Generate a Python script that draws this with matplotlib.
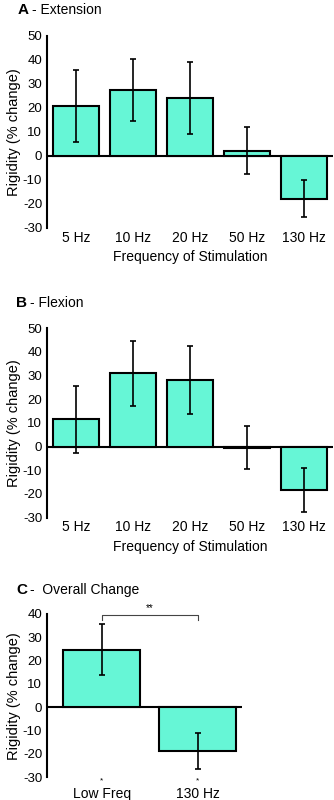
import matplotlib
matplotlib.use("Agg")
import matplotlib.pyplot as plt
import matplotlib.transforms as mtransforms

# --- data ---
freq_labels = ["5 Hz", "10 Hz", "20 Hz", "50 Hz", "130 Hz"]
ext_mean = [21, 27.5, 24, 2.2, -17.8]
ext_err = [15, 13, 15, 9.8, 7.6]
flex_mean = [11.5, 31, 28, -0.5, -18.5]
flex_err = [14, 13.7, 14.3, 9, 9.3]
overall_labels = ["Low Freq", "130 Hz"]
overall_mean = [24.7, -18.8]
overall_err = [10.8, 7.8]

BAR_COLOR = "#66f6d6"
plt.rcParams["font.family"] = ["Liberation Sans", "DejaVu Sans"]

fig = plt.figure(figsize=(3.34, 8.0), dpi=100)


def style_axes(ax, ylim, yticks, xlim):
    ax.set_xlim(*xlim)
    ax.set_ylim(*ylim)
    ax.set_yticks(yticks)
    ax.set_yticklabels([str(t) for t in yticks], fontsize=9.5)
    for s in ["top", "right", "bottom"]:
        ax.spines[s].set_visible(False)
    ax.spines["left"].set_linewidth(1.5)
    ax.tick_params(axis="y", length=0, pad=3.5)
    ax.tick_params(axis="x", length=0, pad=2)
    ax.axhline(0, color="black", lw=1.5, zorder=1)
    ax.set_ylabel("Rigidity (% change)", fontsize=10.5, labelpad=1)


def bar_panel(ax, labels, means, errs):
    x = list(range(len(labels)))
    ax.bar(x, means, width=0.8, color=BAR_COLOR, edgecolor="black",
           linewidth=1.5, zorder=2)
    ax.errorbar(x, means, yerr=errs, fmt="none", ecolor="black",
                elinewidth=1.2, capsize=2, capthick=1.2, zorder=3)
    ax.set_xticks(x)
    ax.set_xticklabels(labels, fontsize=10)


# A - Extension
axA = fig.add_axes([0.1407, 0.715, 0.856, 0.24])
bar_panel(axA, freq_labels, ext_mean, ext_err)
style_axes(axA, (-30, 50), [50, 40, 30, 20, 10, 0, -10, -20, -30], (-0.51, 4.51))
axA.set_xlabel("Frequency of Stimulation", fontsize=10, labelpad=4)
fig.text(18 / 334, 1 - 10 / 800, "A", fontsize=11, fontweight="bold", va="center")
fig.text(32 / 334, 1 - 10 / 800, "- Extension", fontsize=10, va="center")

# B - Flexion
axB = fig.add_axes([0.1407, 0.353, 0.856, 0.2367])
bar_panel(axB, freq_labels, flex_mean, flex_err)
style_axes(axB, (-30, 50), [50, 40, 30, 20, 10, 0, -10, -20, -30], (-0.51, 4.51))
axB.set_xlabel("Frequency of Stimulation", fontsize=10, labelpad=4)
fig.text(16 / 334, 1 - 303 / 800, "B", fontsize=11, fontweight="bold", va="center")
fig.text(30 / 334, 1 - 303 / 800, "- Flexion", fontsize=10, va="center")

# C - Overall Change
axC = fig.add_axes([0.1407, 0.0284, 0.584, 0.2041])
bar_panel(axC, overall_labels, overall_mean, overall_err)
style_axes(axC, (-30, 40), [40, 30, 20, 10, 0, -10, -20, -30], (-0.57, 1.46))
axC.tick_params(axis="x", pad=7)
fig.text(16 / 334, 1 - 590 / 800, "C", fontsize=11, fontweight="bold", va="center")
fig.text(30 / 334, 1 - 590 / 800, "-  Overall Change", fontsize=10, va="center")

# significance marks
axC.plot([0, 0, 1, 1], [37.5, 39.6, 39.6, 37.5], color="#444444", lw=0.8,
         clip_on=False)
axC.text(0.5, 40.2, "**", ha="center", va="bottom", fontsize=7)
trans = mtransforms.blended_transform_factory(axC.transData, axC.transAxes)
for i in range(len(overall_labels)):
    axC.text(i, 0.0, "*", ha="center", va="top", fontsize=6, transform=trans)

fig.savefig("out.png", dpi=100)
